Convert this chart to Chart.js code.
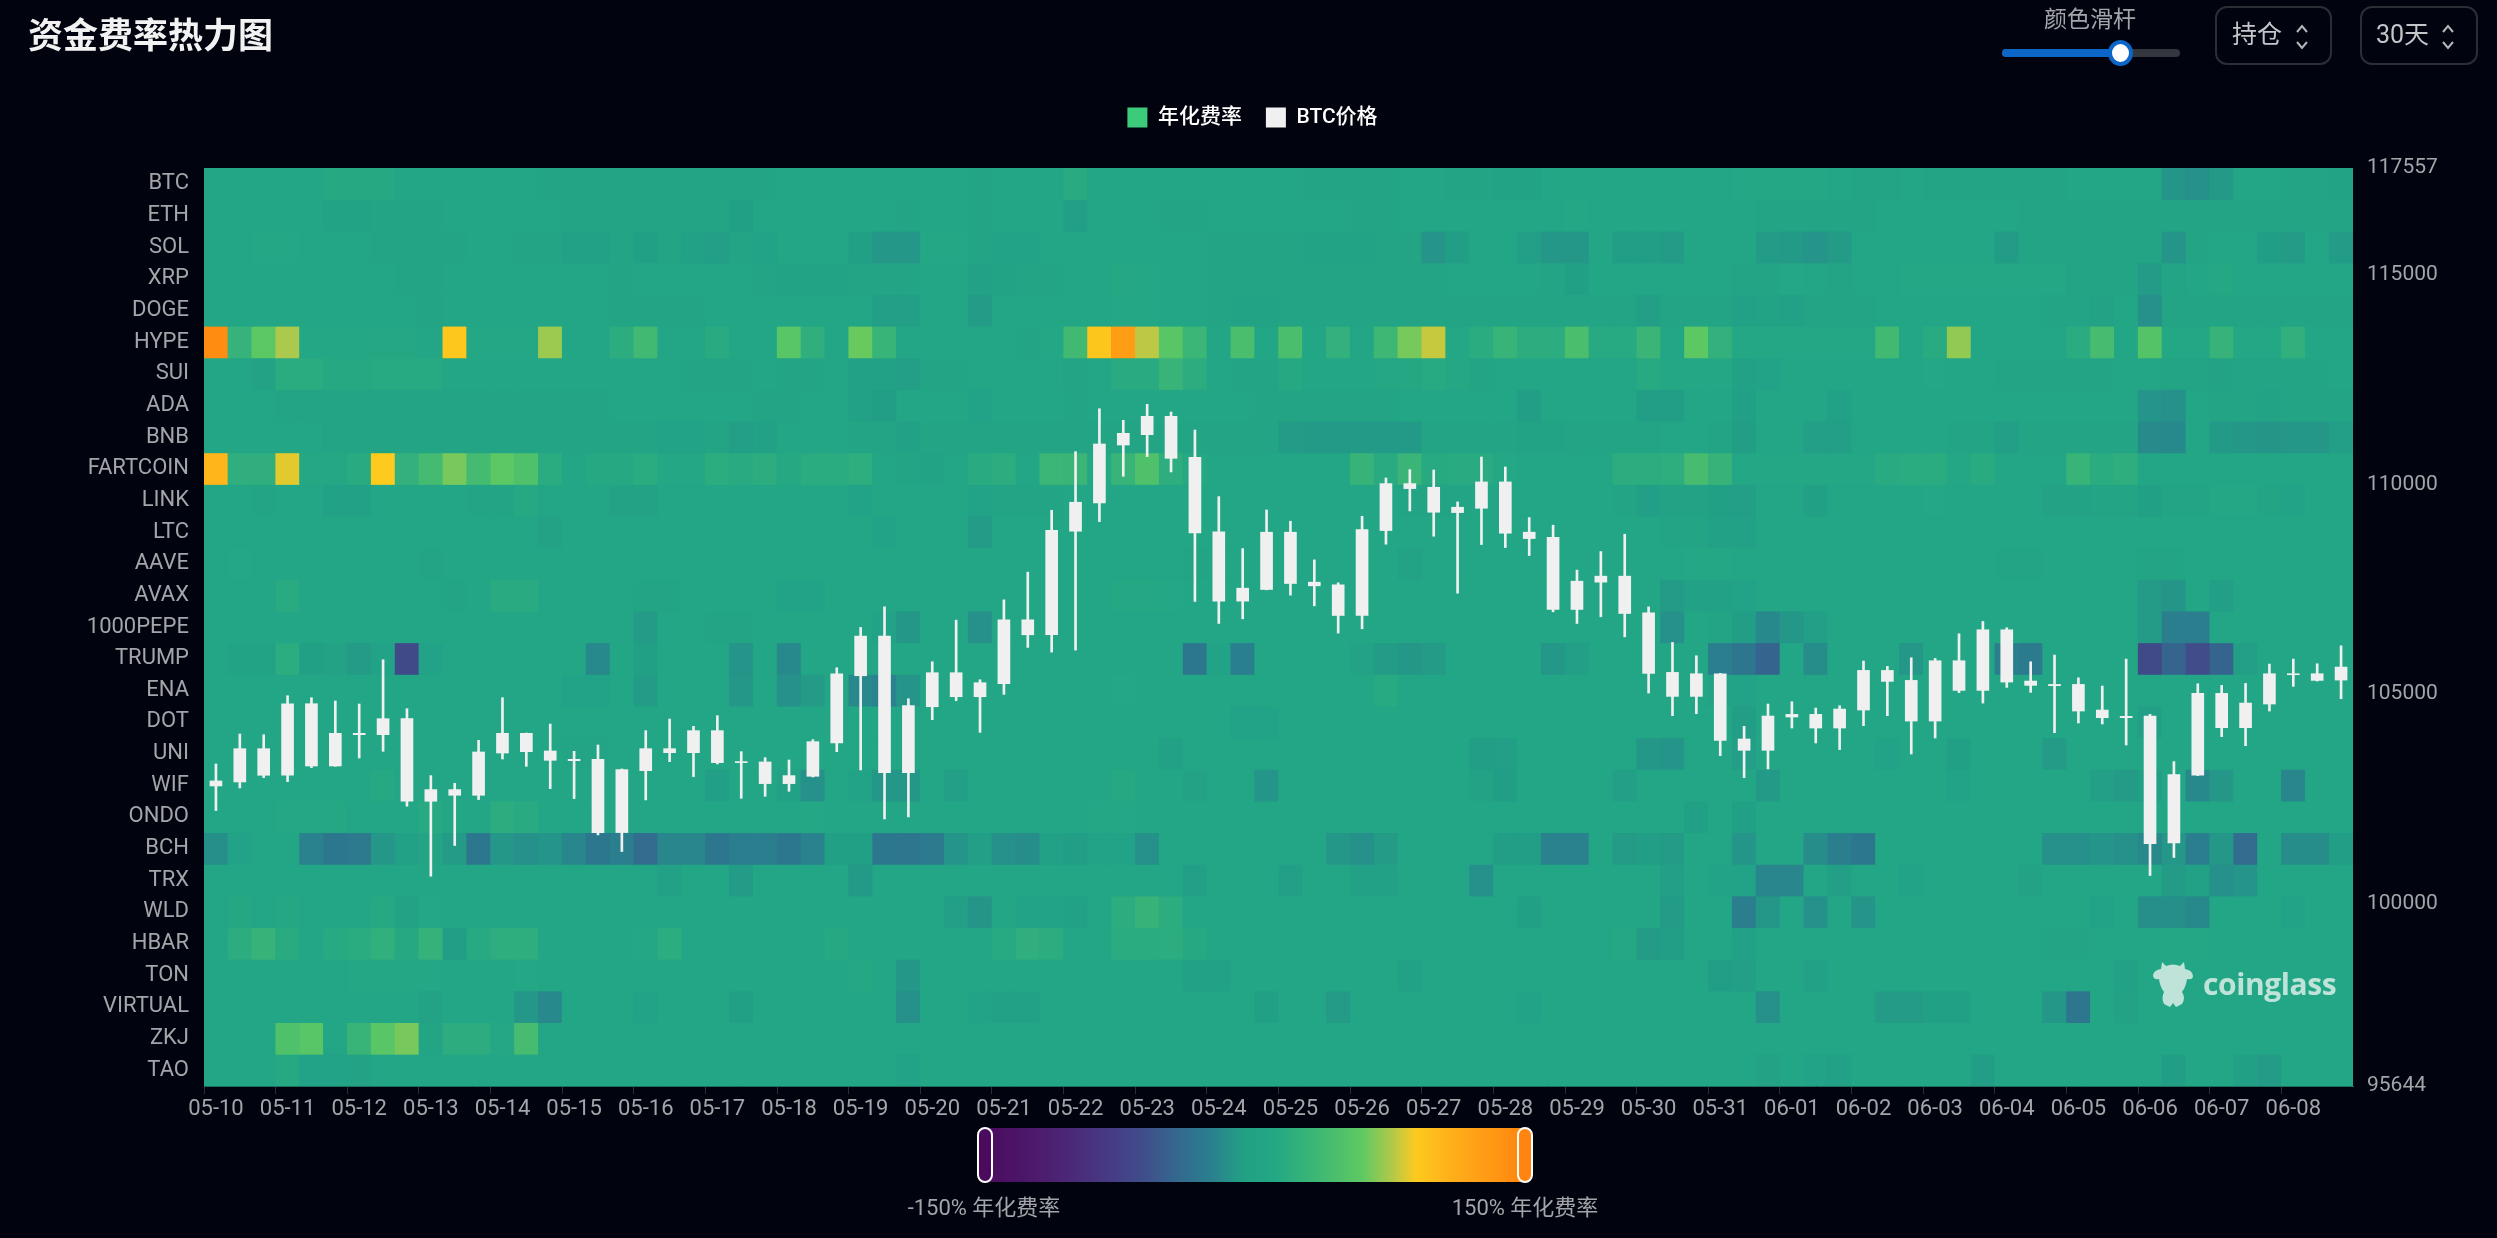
<!DOCTYPE html>
<html>
<head>
<meta charset="utf-8">
<title>资金费率热力图</title>
<script src="https://cdn.jsdelivr.net/npm/chart.js@4/dist/chart.umd.min.js"></script>
<style>
    html, body { margin: 0; height: 100%; background: #01040e; overflow: hidden; font-family: Roboto, "Noto Sans CJK SC", sans-serif; }
    #wrap { position: absolute; left: 0; top: 0; width: 2497px; height: 1238px; }
    #wrap canvas { position: absolute; left: 0; top: 0; }
    .abs { position: absolute; white-space: nowrap; }
    .slider-label { left: 2044px; top: 6px; font-size: 23px; line-height: 28px; color: #a3a5a9; }
    .track { left: 2002px; top: 49px; width: 178px; height: 8px; border-radius: 4px; background: #33373d; }
    .track-fill { left: 2002px; top: 49px; width: 118px; height: 8px; border-radius: 4px; background: #0b66c8; }
    .thumb { left: 2108px; top: 40px; width: 17px; height: 18px; border: 4px solid #0b66c8; border-radius: 50%; background: #fff; }
    .select { top: 6px; height: 55px; border: 2px solid #2b2f35; border-radius: 12px; }
    .select span { position: absolute; top: 12px; font-size: 25px; line-height: 30px; color: #c4c6ca; }
    .select svg { position: absolute; top: 16px; }
    .bar { left: 984px; top: 1128px; width: 540px; height: 54px; background: linear-gradient(to right, #4a0a5e 0%, #4d1f70 12%, #453f88 25%, #3f4f8a 30%, #35658f 35%, #2a7f8e 42%, #22a084 48%, #23a884 54%, #3fb874 62%, #5ec962 70%, #b0c94a 75.5%, #fdca1e 80%, #ffb11a 86%, #ff8510 100%); }
    .handle { top: 1127px; width: 12px; height: 52px; border: 2px solid #fff; border-radius: 8px; }
    .bar-label { top: 1196px; font-size: 22px; line-height: 24px; color: #a3a5a9; transform: translateX(-50%); }
    .mark { left: 2203px; top: 964px; font-size: 30px; line-height: 40px; font-weight: 700; letter-spacing: -0.4px; color: #bfe3d8; font-family: "Open Sans", sans-serif; }
    .logo { left: 2152px; top: 960px; }
</style>
</head>
<body>
<div id="wrap">
    <canvas id="heatChart"></canvas>
    <div class="abs slider-label">颜色滑杆</div>
    <div class="abs track"></div>
    <div class="abs track-fill"></div>
    <div class="abs thumb"></div>
    <div class="abs select" style="left:2215px;width:113px">
        <span style="left:15px">持仓</span>
        <svg style="left:78px" width="14" height="26" viewBox="0 0 14 26"><path d="M2 8 L7 2 L12 8 M2 18 L7 24 L12 18" fill="none" stroke="#b4b6ba" stroke-width="2"/></svg>
    </div>
    <div class="abs select" style="left:2360px;width:114px">
        <span style="left:14px">30天</span>
        <svg style="left:79px" width="14" height="26" viewBox="0 0 14 26"><path d="M2 8 L7 2 L12 8 M2 18 L7 24 L12 18" fill="none" stroke="#b4b6ba" stroke-width="2"/></svg>
    </div>
    <div class="abs bar"></div>
    <div class="abs handle" style="left:977px;background:#4a0a5e"></div>
    <div class="abs handle" style="left:1517px;background:#ff8510"></div>
    <div class="abs bar-label" style="left:984px">-150% 年化费率</div>
    <div class="abs bar-label" style="left:1525px">150% 年化费率</div>
    <svg class="abs logo" width="42" height="48" viewBox="0 0 42 48"><path d="M10 2 L14 6 Q21 3 28 6 L32 2 L33 9 Q41 10 41 17 Q40 20 35 19 Q34 27 30 32 Q34 38 30 44 L24 47 L21 43 L18 47 L12 44 Q9 38 12 32 Q8 27 7 19 Q1 20 1 15 Q2 10 9 9 Z" fill="#bfe3d8"/></svg>
    <div class="abs mark">coinglass</div>
</div>
<script>
var coins = ['BTC', 'ETH', 'SOL', 'XRP', 'DOGE', 'HYPE', 'SUI', 'ADA', 'BNB', 'FARTCOIN', 'LINK', 'LTC', 'AAVE', 'AVAX', '1000PEPE', 'TRUMP', 'ENA', 'DOT', 'UNI', 'WIF', 'ONDO', 'BCH', 'TRX', 'WLD', 'HBAR', 'TON', 'VIRTUAL', 'ZKJ', 'TAO'];

var dayLabels = ['05-10', '05-11', '05-12', '05-13', '05-14', '05-15', '05-16', '05-17', '05-18', '05-19', '05-20', '05-21', '05-22', '05-23', '05-24', '05-25', '05-26', '05-27', '05-28', '05-29', '05-30', '05-31', '06-01', '06-02', '06-03', '06-04', '06-05', '06-06', '06-07', '06-08'];

var priceTicks = [117557, 115000, 110000, 105000, 100000, 95644];

// annualised funding per coin, three readings a day
var rateBTC = [3,3,3,3,3,6,6,6,3,3, 3,3,3,3,2,1,1,2,2,2, 2,2,2,1,3,3,3,3,3,3, 3,3,1,3,3,3,10,3,3,3, 3,3,3,3,3,3,2,2,2,2, 3,3,2,1,0,0,3,3,3,3, 3,3,3,3,4,4,4,4,3,2, 2,3,2,2,2,1,1,1,3,3, 3,3,-12,-14,-9,3,3,2,2,0];
var rateETH = [3,3,3,3,3,0,0,2,2,2, 3,3,3,3,3,2,2,2,2,2, 2,2,-4,3,3,3,3,3,3,2, 3,3,1,3,3,3,-5,3,3,3, 2,2,3,3,3,3,3,3,2,2, 3,3,3,3,3,3,3,4,3,3, 3,3,3,3,3,2,2,1,1,2, 3,3,3,3,3,3,2,2,2,2, 2,2,2,2,2,2,2,2,2,2];
var rateSOL = [3,3,4,4,3,3,3,2,2,2, 1,3,3,2,2,-3,-3,1,-4,1, -3,-5,1,-2,3,3,3,-4,-10,-10, 4,4,1,-2,-2,3,3,3,3,3, 3,3,1,1,1,1,0,0,0,1, 2,-12,-6,3,3,-5,-10,-10,3,-6, -6,-8,3,3,3,-7,-9,-11,-8,3, 3,3,3,3,3,-7,1,1,1,1, 1,1,-12,1,3,3,-6,-8,3,-7];
var rateXRP = [3,3,3,3,3,3,3,3,2,1, 3,3,3,3,3,3,3,1,3,3, 3,3,3,1,0,0,0,1,2,2, 3,3,-3,0,1,1,3,3,5,4, 3,3,1,1,2,2,2,1,1,1, 2,2,3,3,3,3,2,-4,3,3, 3,3,3,3,2,2,4,3,2,3, 3,4,4,4,4,4,4,4,2,2, 2,-8,1,3,5,3,3,3,3,3];
var rateDOGE = [3,3,3,3,3,3,3,3,3,1, 3,3,3,3,3,3,3,2,2,2, 2,3,3,3,3,3,3,3,-5,-5, 3,3,-7,3,3,3,3,3,4,4, 3,3,1,0,0,1,1,1,1,2, 2,2,2,1,1,1,1,1,1,1, -5,2,2,2,-3,0,-3,2,2,2, 3,3,3,3,3,3,3,2,2,-1, 3,-14,1,1,1,1,1,1,2,2];
var rateHYPE = [143,25,58,75,4,4,4,5,5,3, 92,4,4,4,72,3,3,15,38,3, 3,10,3,3,55,18,3,62,28,3, 3,3,3,3,1,4,38,93,128,78, 55,32,3,45,3,45,3,22,3,35, 65,80,4,12,28,15,15,45,8,8, 30,3,58,22,4,4,4,4,4,4, 38,3,10,70,3,3,3,3,12,42, 3,52,4,4,26,4,4,20,3,3];
var rateSUI = [3,3,-1,12,12,6,7,8,8,8, 3,3,3,3,3,3,3,3,3,3, 2,2,2,3,1,1,3,-3,-3,-5, 1,2,3,3,3,3,1,3,10,10, 28,14,3,2,2,6,3,3,3,5, 5,8,5,1,3,3,3,3,3,3, 8,4,4,4,-3,-2,3,3,3,3, 3,3,4,3,3,2,2,2,2,2, 3,3,1,1,-1,1,1,1,1,3];
var rateADA = [3,3,3,2,2,1,1,2,2,2, 2,2,2,2,2,2,2,3,3,3, 3,3,3,2,2,3,3,-3,-6,3, 3,3,-2,3,3,3,2,3,3,3, 3,3,3,3,2,2,2,2,2,2, 3,3,3,3,3,-6,3,3,3,3, -6,-6,3,3,-4,3,3,3,-3,3, 3,3,3,3,3,3,3,3,3,3, 3,-12,-14,3,1,1,0,1,1,2];
var rateBNB = [3,3,3,3,3,2,2,2,2,2, 2,2,2,2,2,2,2,2,2,-2, -2,1,-5,-3,3,3,3,2,2,-3, 2,2,2,2,2,2,2,2,2,2, 2,2,2,2,2,-7,-9,-9,-9,-9, -9,2,2,2,2,0,0,2,2,2, 2,3,3,1,-6,3,3,-5,-5,3, 3,3,3,2,2,-5,2,2,2,2, 2,-17,-18,3,-9,-10,-11,-10,-10,-5];
var rateFARTCOIN = [105,18,18,85,5,5,10,90,22,40, 65,40,58,48,12,3,6,6,12,4, 4,15,10,14,6,12,12,16,3,2, 0,3,10,14,3,32,30,5,28,48, 16,6,3,3,3,3,3,3,26,10, 30,8,10,10,4,3,3,3,3,14, 14,16,42,26,4,4,4,4,4,4, 10,12,12,4,10,3,3,3,28,12, 16,3,3,3,3,3,3,3,3,3];
var rateLINK = [3,3,2,3,3,-3,-3,3,3,3, 3,2,2,7,3,3,3,-1,-1,3, 3,3,3,3,3,3,3,-2,3,3, 3,3,-2,2,2,2,3,3,3,3, 3,3,3,3,3,3,3,3,3,3, 2,2,2,3,3,3,3,3,3,2, -5,-1,-1,-4,-5,3,3,-4,3,3, 3,3,4,3,3,3,3,-1,-1,1, 1,-4,2,2,4,4,2,-2,3,3];
var rateLTC = [3,3,3,3,3,3,3,3,3,3, 3,3,3,3,-1,3,3,3,3,3, 3,3,3,3,3,3,3,3,-2,3, 3,3,-7,3,3,3,3,3,3,3, 3,3,3,3,3,3,3,3,3,3, 3,3,3,3,3,3,3,3,3,3, 3,2,2,-3,-3,3,3,3,3,3, 3,3,3,3,3,3,3,3,3,3, 3,3,3,3,3,3,3,3,3,3];
var rateAAVE = [3,4,3,3,3,3,3,3,3,2, 3,3,3,3,3,3,3,3,3,3, 3,3,3,3,3,3,3,3,3,3, 3,3,3,3,3,3,3,3,3,3, 3,2,3,3,3,3,3,3,3,3, -1,3,3,3,3,3,3,3,3,3, 3,3,4,4,3,3,3,3,3,3, 3,3,3,3,3,2,2,3,3,3, 3,2,2,3,3,3,3,3,3,3];
var rateAVAX = [3,3,3,10,3,3,3,3,3,3, 1,3,10,10,3,3,3,3,2,2, 3,3,3,3,-2,-2,3,3,3,3, 3,3,3,3,3,3,3,3,5,5, 4,3,3,3,3,3,3,3,3,3, 3,3,3,3,3,3,3,3,3,3, 3,-8,-3,-3,-2,3,3,3,3,3, 3,3,3,3,3,3,3,3,3,3, 3,-8,-12,3,-5,3,3,3,3,3];
var rate1000PEPE = [3,3,3,3,3,3,3,3,3,3, 3,3,3,3,3,3,3,3,-8,3, 3,2,2,3,3,3,3,3,-2,-10, 3,3,-14,3,3,3,3,3,3,3, 3,3,3,3,3,3,3,3,3,3, 3,3,3,3,3,3,3,3,3,3, 3,-14,3,2,-6,-18,-10,-5,3,3, 3,3,3,3,3,3,3,3,3,3, 3,-8,-25,-25,3,3,3,3,3,3];
var rateTRUMP = [3,0,0,14,-4,-1,-8,-2,-65,-2, 3,3,3,3,3,3,-18,3,-4,3, 3,3,-12,3,-18,3,3,3,3,3, 3,3,3,3,3,3,3,3,3,3, 3,-30,-2,-24,3,3,3,3,-1,-7, -10,-8,3,3,3,3,-10,-5,3,3, 3,3,3,-25,-32,-44,3,-16,3,3, 3,-10,3,3,3,-25,-28,3,3,3, 3,-65,-44,-62,-44,-5,3,3,3,3];
var rateENA = [3,3,3,3,3,3,3,3,3,3, 3,3,3,3,3,-2,-2,3,-7,3, 3,3,-10,3,-14,-8,3,-18,-22,-12, 3,3,3,3,3,3,3,3,4,3, 3,3,3,3,3,3,3,3,3,8, 3,3,3,3,3,3,3,3,3,3, 3,3,3,-2,-2,3,3,3,3,3, 3,3,3,3,3,3,3,3,3,3, 3,3,3,3,3,3,3,3,3,3];
var rateDOT = [3,3,3,3,3,3,3,3,3,3, 3,3,3,3,3,3,3,3,3,3, 3,3,3,3,3,3,3,3,3,3, 3,3,3,3,3,3,3,3,3,3, 3,3,3,-2,-2,3,3,3,3,3, 3,3,3,3,3,3,3,3,3,3, 3,3,3,3,-6,3,3,3,3,3, 3,3,3,3,3,3,3,3,3,3, 3,-5,3,3,3,3,3,3,3,3];
var rateUNI = [3,3,3,3,3,3,3,3,3,3, 3,3,3,3,3,2,2,3,3,3, 3,3,3,3,3,3,3,3,3,3, 3,3,3,3,3,3,3,3,3,3, -3,3,3,3,3,3,3,3,3,3, 3,3,3,-6,-5,3,3,3,3,3, -10,-11,3,3,-5,3,3,3,3,3, -2,3,3,-4,3,3,3,-8,3,3, 3,3,3,3,3,3,3,3,3,3];
var rateWIF = [3,3,3,3,3,3,3,6,3,3, 3,3,3,3,3,3,3,3,3,3, 3,-5,3,3,-3,-14,3,-2,-10,-10, 3,-5,3,3,3,3,3,3,6,3, 3,-1,3,3,-12,3,3,3,3,3, 3,3,3,-1,-6,3,3,3,3,-5, 3,3,3,3,3,-9,3,3,3,3, 3,3,3,-2,3,3,3,3,3,-5, -8,-4,3,-18,-10,3,3,-20,3,3];
var rateONDO = [3,3,3,5,5,5,3,3,3,8, 3,3,14,10,3,3,3,3,3,3, 3,3,3,3,3,4,3,3,3,3, 3,3,3,3,3,3,3,4,4,3, 3,3,3,3,3,3,3,3,3,3, 3,3,3,3,3,3,3,3,3,3, 3,3,-4,3,-4,3,3,3,3,3, 3,3,3,3,3,3,3,3,3,3, 3,3,3,3,3,3,3,3,3,3];
var rateBCH = [-15,-2,3,3,-22,-30,-29,-10,-3,1, -8,-30,-10,-14,-12,-20,-30,-25,-38,-20, -20,-30,-25,-25,-30,-22,-4,-4,-30,-32, -28,-12,-5,-14,-16,-3,-6,-2,-2,-14, 3,3,3,3,3,3,3,-10,-14,-8, 3,3,3,3,-6,-6,-22,-22,3,-8, -6,-8,3,3,-12,3,3,-16,-25,-30, 3,3,3,3,3,3,3,-14,-14,-12, -14,-18,-10,-25,-10,-38,3,-16,-16,-6];
var rateTRX = [3,3,3,3,3,3,3,3,3,3, 3,3,3,3,3,3,3,3,3,-3, 3,3,-7,3,3,3,3,-9,3,3, 3,3,3,3,3,3,3,3,3,3, 3,-5,3,3,3,-5,3,3,-3,-3, 3,3,3,-14,3,3,3,3,3,3, 3,-5,3,-2,-2,-20,-20,3,-5,3, 3,-2,3,3,3,3,-1,3,3,3, 3,3,-8,-3,-14,-12,3,3,3,3];
var rateWLD = [3,5,3,5,3,3,3,6,-1,4, 3,3,3,3,3,3,3,3,3,3, 3,3,3,3,3,3,3,3,3,3, 3,-5,-12,3,-2,-2,-3,3,14,26, 14,3,3,3,3,3,3,3,3,3, 3,3,3,3,3,-4,3,3,3,3, 3,-7,3,3,-25,-10,3,-14,3,-12, 3,3,3,3,3,3,3,3,3,-2, 3,-15,-15,-18,3,3,3,-2,3,3];
var rateHBAR = [3,14,26,10,3,8,12,20,6,24, -6,8,16,16,3,3,3,3,4,14, 3,3,3,3,3,3,6,3,3,3, 3,3,3,8,18,14,3,3,12,12, 14,6,3,3,3,3,3,3,3,3, 3,3,3,3,3,3,3,3,3,5, -8,-6,3,3,-3,3,3,3,3,3, 3,3,3,3,3,3,3,1,1,3, 3,3,4,4,3,3,3,3,3,3];
var rateTON = [3,3,3,3,3,3,4,4,4,4, 3,3,3,4,3,3,3,3,3,3, 3,3,3,3,3,3,3,5,3,-10, 3,3,3,3,3,3,3,3,3,3, 3,-3,-3,3,3,3,3,3,3,3, -3,3,3,3,3,3,3,3,3,3, 3,3,3,-6,-5,3,3,-3,3,3, 3,3,3,3,3,3,3,3,3,3, -3,3,3,3,3,3,3,3,3,3];
var rateVIRTUAL = [3,3,3,3,3,3,3,3,3,-1, 3,3,3,-10,-18,3,3,3,-2,3, 3,3,-4,3,3,3,3,3,3,-14, 3,3,-2,-3,-3,3,3,3,3,3, 3,3,3,3,-4,3,3,-8,3,3, 3,3,3,3,3,-2,3,3,3,3, 3,3,3,3,3,-14,3,3,3,3, -8,-8,-4,-4,3,3,3,-10,-32,3, -1,3,3,3,3,3,3,3,3,3];
var rateZKJ = [3,3,3,48,55,3,28,55,65,1, 15,15,5,42,3,3,3,3,3,3, 3,3,3,3,3,3,3,3,3,3, 3,3,3,3,3,3,3,3,3,3, 3,3,3,3,3,3,3,3,3,3, 3,3,3,3,3,3,3,3,3,3, 3,3,3,3,3,3,3,3,3,3, 3,3,3,3,3,3,3,3,3,3, 3,3,3,3,3,3,3,3,3,3];
var rateTAO = [3,3,3,6,-2,-2,-1,3,3,3, 3,3,3,3,3,3,3,3,3,3, 3,3,3,3,3,3,3,3,3,-2, 3,3,3,3,3,3,3,3,3,3, 3,3,3,3,3,3,3,3,3,3, 3,3,3,3,3,3,3,3,3,3, 3,3,3,3,3,-1,3,-2,-3,3, 3,3,3,3,-6,3,3,3,3,3, 3,3,-6,3,3,-4,-8,3,3,3];

var rateRows = [rateBTC, rateETH, rateSOL, rateXRP, rateDOGE, rateHYPE, rateSUI, rateADA, rateBNB, rateFARTCOIN, rateLINK, rateLTC, rateAAVE, rateAVAX, rate1000PEPE, rateTRUMP, rateENA, rateDOT, rateUNI, rateWIF, rateONDO, rateBCH, rateTRX, rateWLD, rateHBAR, rateTON, rateVIRTUAL, rateZKJ, rateTAO];

// BTC 8h candles
var opens = [102798,102894,103704,103053,104777,103275,104070,104022,104420,102433, 102727,102576,103585,104070,103649,103402,103450,101686,103164,103704, 103593,104134,103355,103387,102854,103029,103824,105429,106391,103116, 104690,105517,104928,105238,106780,106407,108879,109554,110937,111183, 111637,110659,108879,107210,107488,108871,107678,107615,106868,108895, 110031,109944,109324,109427,110071,108871,108751,107011,107663,107822, 106947,105525,104936,105493,103935,103649,104444,104523,104181,104611, 105572,105334,104348,105803,105079,106542,105318,105191,105238,104626, 104428,104483,101439,103053,105024,104189,104754,105493,105318,105326];
var closes = [102934,103704,103053,104777,103275,104070,104022,104420,102433,102727, 102576,103625,104070,103617,103410,103450,101686,103204,103704,103593, 104134,103355,103395,102854,103061,103871,105493,106391,103116,104730, 105517,104928,105278,106780,106407,108918,109586,110977,111231,111637, 110619,108839,107210,107535,108871,107631,107575,106868,108934,110031, 109896,109332,109467,110071,108831,108704,107011,107702,107822,106915, 105485,104936,105493,103887,103649,104483,104523,104181,104650,105572, 105294,104348,105803,105079,106542,105278,105199,105238,104587,104428, 104475,101423,103085,105024,104189,104793,105493,105453,105493,105652];
var highs = [103331,104046,104030,104960,104913,104833,104762,105819,104650,103053, 102870,103895,104913,104070,104285,103633,103784,103212,104126,104404, 104229,104483,103625,103482,103426,103911,105628,106590,107082,104889, 105771,106764,105342,107249,107909,109387,110786,111811,111533,111915, 111732,111303,109713,108473,109395,109125,108203,107655,109244,110158, 110357,110349,109586,110659,110421,109212,109030,107957,108402,108815, 107082,106232,105914,105493,104229,104762,104817,104666,104722,105787, 105660,105866,105850,106439,106733,106582,105771,105930,105389,105191, 105835,104515,103387,105246,105207,105254,105715,105835,105723,106152];
var lows = [102218,102759,103005,102910,103244,103275,103474,103633,102322,100652, 101384,102481,103450,103275,102743,102504,101638,101241,102473,103387, 103029,103331,102512,102560,102679,103021,103625,103188,102019,102067, 104388,104841,104086,104992,106113,106001,106049,109117,110198,110667, 110301,107210,106685,106796,107488,107361,107106,106454,106558,108577, 109371,108767,107408,108569,108497,108306,106963,106685,106844,106367, 105024,104483,104531,103530,103005,103212,104189,103832,103673,104245, 104483,103569,103951,105032,104785,105159,105040,104078,104309,104285, 103784,100668,101098,103053,103983,103768,104595,105183,105310,104889];

var rateStops = [[-150, 74, 10, 94], [-115, 77, 31, 112], [-75, 69, 63, 136], [-60, 63, 79, 138], [-44, 53, 101, 143], [-24, 42, 127, 142], [-6, 34, 158, 134], [3, 35, 166, 133], [36, 63, 184, 116], [60, 94, 201, 98], [76, 176, 201, 74], [90, 253, 202, 30], [109, 255, 177, 26], [150, 255, 133, 16]];

function rateColor(v) {
    for (var i = 1; i < rateStops.length; i++) {
        var a = rateStops[i - 1], b = rateStops[i];
        if (v <= b[0]) {
            var t = (v - a[0]) / (b[0] - a[0]);
            return 'rgb(' + Math.round(a[1] + (b[1] - a[1]) * t) + ',' + Math.round(a[2] + (b[2] - a[2]) * t) + ',' + Math.round(a[3] + (b[3] - a[3]) * t) + ')';
        }
    }
    return 'rgb(255,133,16)';
}

// one label per day, on the first of the three columns
var slots = [];
dayLabels.forEach(function (d) {
    slots.push(d, d + ' 08', d + ' 16');
});

var datasets = [];

datasets.push({
    label: 'body',
    data: opens.map(function (o, i) { return [o, closes[i]]; }),
    yAxisID: 'yPrice',
    order: 1,
    grouped: false,
    backgroundColor: '#f0f0f0',
    barPercentage: 0.53,
    categoryPercentage: 1
});
datasets.push({
    label: 'wick',
    data: lows.map(function (l, i) { return [l, highs[i]]; }),
    yAxisID: 'yPrice',
    order: 2,
    grouped: false,
    backgroundColor: '#f0f0f0',
    barThickness: 2
});
rateRows.forEach(function (row, r) {
    datasets.push({
        label: coins[r],
        data: row.map(function () { return [r - 0.01, r + 1.01]; }),
        yAxisID: 'yRow',
        order: 3,
        grouped: false,
        backgroundColor: row.map(rateColor),
        barPercentage: 1.02,
        categoryPercentage: 1
    });
});

var plotBg = {
    id: 'plotBg',
    beforeDatasetsDraw: function (chart) {
        var a = chart.chartArea;
        chart.ctx.save();
        chart.ctx.fillStyle = '#23a685';
        chart.ctx.fillRect(a.left, a.top, a.right - a.left, a.bottom - a.top);
        chart.ctx.restore();
    }
};

// room under the legend, the option only pads above it
var legendGap = {
    id: 'legendGap',
    beforeInit: function (chart) {
        var fit = chart.legend.fit;
        chart.legend.fit = function () {
            fit.call(this);
            this.height += 30;
        };
    }
};

Chart.defaults.font.family = 'Roboto, "Noto Sans CJK SC", sans-serif';
Chart.defaults.font.size = 22;

var canvas = document.getElementById('heatChart');
canvas.width = 2497;
canvas.height = 1238;

new Chart(canvas, {
    type: 'bar',
    data: {labels: slots, datasets: datasets},
    plugins: [plotBg, legendGap],
    options: {
        responsive: false,
        animation: false,
        layout: {padding: {left: 28, right: 20, top: 0, bottom: 0}},
        plugins: {
            tooltip: {enabled: false},
            title: {
                display: true,
                text: '资金费率热力图',
                align: 'start',
                color: '#f2f2f2',
                font: {size: 35, weight: 'bold', lineHeight: 1.2},
                padding: {top: 18, bottom: 23}
            },
            legend: {
                display: true,
                position: 'top',
                onClick: null,
                labels: {
                    boxWidth: 20,
                    boxHeight: 20,
                    padding: 24,
                    color: '#ffffff',
                    font: {size: 21, weight: '500'},
                    generateLabels: function () {
                        return [
                            {text: '年化费率', fillStyle: '#3ccb7a', strokeStyle: '#3ccb7a', lineWidth: 0, fontColor: '#ffffff'},
                            {text: 'BTC价格', fillStyle: '#f0f0f0', strokeStyle: '#f0f0f0', lineWidth: 0, fontColor: '#ffffff'}
                        ];
                    }
                }
            }
        },
        scales: {
            x: {
                type: 'category',
                offset: true,
                border: {color: '#1d6f5e'},
                afterFit: function (scale) { scale.height = 152; },
                grid: {
                    offset: true,
                    drawOnChartArea: false,
                    tickLength: 8,
                    tickColor: function (ctx) {
                        return ctx.index % 3 === 0 ? '#2a2e33' : 'rgba(0,0,0,0)';
                    }
                },
                ticks: {
                    autoSkip: false,
                    maxRotation: 0,
                    minRotation: 0,
                    padding: 2,
                    color: '#a3a5a9',
                    callback: function (value, index) {
                        return index % 3 === 0 ? dayLabels[index / 3] : '';
                    }
                }
            },
            yRow: {
                type: 'linear',
                position: 'left',
                reverse: true,
                min: 0,
                max: coins.length,
                border: {display: false},
                grid: {display: false},
                afterFit: function (scale) { scale.width = 176; },
                afterBuildTicks: function (scale) {
                    scale.ticks = coins.map(function (c, i) { return {value: i + 0.5}; });
                },
                ticks: {
                    autoSkip: false,
                    padding: 7,
                    color: '#a3a5a9',
                    callback: function (value) {
                        return coins[Math.floor(value)];
                    }
                }
            },
            yPrice: {
                type: 'linear',
                position: 'right',
                min: 95644,
                max: 117557,
                border: {display: false},
                grid: {display: false},
                afterFit: function (scale) { scale.width = 124; },
                afterBuildTicks: function (scale) {
                    scale.ticks = priceTicks.map(function (p) { return {value: p}; });
                },
                ticks: {
                    autoSkip: false,
                    padding: 6,
                    color: '#a3a5a9',
                    font: {size: 21},
                    callback: function (value) {
                        return String(value);
                    }
                }
            }
        }
    }
});
</script>
</body>
</html>
